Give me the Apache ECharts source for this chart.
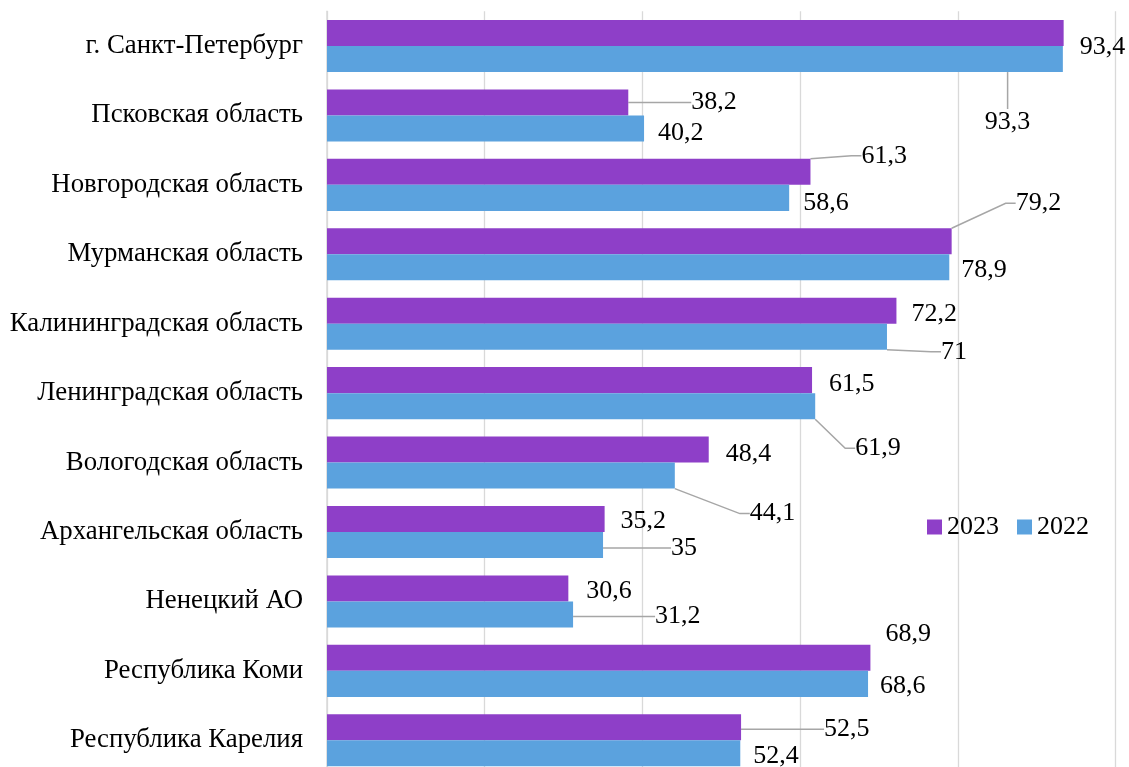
<!DOCTYPE html>
<html>
<head>
<meta charset="utf-8">
<script src="https://cdn.jsdelivr.net/npm/echarts@6/dist/echarts.min.js"></script>
<style>
html,body{margin:0;padding:0;background:#fff;overflow:hidden;width:1129px;height:767px;}
#chart{width:1129px;height:775px;}
</style>
</head>
<body>
<div id="chart"></div>
<script>
// ---- data ----
var categories = ['г. Санкт-Петербург','Псковская область','Новгородская область','Мурманская область','Калининградская область','Ленинградская область','Вологодская область','Архангельская область','Ненецкий АО','Республика Коми','Республика Карелия'];
var values2023 = [93.4, 38.2, 61.3, 79.2, 72.2, 61.5, 48.4, 35.2, 30.6, 68.9, 52.5];
var values2022 = [93.3, 40.2, 58.6, 78.9, 71, 61.9, 44.1, 35, 31.2, 68.6, 52.4];
var seriesNames = ['2023', '2022'];

// ---- label layout (offsets from default label position) ----
var shift2023 = [[11,12],[58,-2],[46,-18],[59,-40],[10,1],[12,2],[12,3],[11,0],[13,1],[10,-26],[78,0]];
var leader2023 = [false,true,true,true,false,false,false,false,false,false,true];
var shift2022 = [[-83,61],[9,3],[9,3],[7,1],[49,13],[35,40],[70,36],[63,1],[77,0],[7,0],[8,1]];
var leader2022 = [true,false,false,false,true,true,true,true,true,false,false];
var LABEL_DY = 2;

var FONT = '"Liberation Serif", "Times New Roman", serif';

function fmt(v){ return String(v).replace('.', ','); }
function buildData(vals, leaders){
  return vals.map(function(v, i){
    return { value: v, labelLine: { show: leaders[i] } };
  });
}
function layoutFn(shifts){
  return function(params){
    var s = shifts[params.dataIndex];
    return { dx: s[0], dy: s[1] + LABEL_DY };
  };
}

var chart = echarts.init(document.getElementById('chart'), null, {renderer:'canvas'});
var labelCommon = {
  show: true, position: 'right', distance: 5,
  color: '#000', fontFamily: FONT, fontSize: 26,
  formatter: function(p){ return fmt(p.value); }
};
var lineCommon = { show: true, length2: 10, smooth: false, lineStyle: { color: '#a6a6a6', width: 1.5 } };

chart.setOption({
  animation: false,
  backgroundColor: '#fff',
  textStyle: { fontFamily: FONT },
  legend: {
    data: seriesNames,
    left: 922, top: 509,
    itemWidth: 15, itemHeight: 15, itemGap: 18,
    icon: 'rect',
    textStyle: { fontFamily: FONT, fontSize: 26, color: '#000' }
  },
  grid: { left: 327, right: 13.3, top: 11.3, bottom: 0, containLabel: false },
  xAxis: {
    type: 'value', min: 0, max: 100, interval: 20,
    axisLabel: { show: false }, axisTick: { show: false }, axisLine: { show: false },
    splitLine: { show: true, lineStyle: { color: '#d9d9d9', width: 1.3 } }
  },
  yAxis: {
    type: 'category', data: categories, inverse: true,
    axisTick: { show: false },
    axisLine: { show: true, lineStyle: { color: '#d9d9d9', width: 1.5 } },
    axisLabel: { fontFamily: FONT, fontSize: 26.8, color: '#000', margin: 24 }
  },
  series: [
    {
      name: seriesNames[0], type: 'bar', data: buildData(values2023, leader2023),
      barGap: '0%', barCategoryGap: '25%',
      itemStyle: { color: '#8E3FC8' },
      label: labelCommon, labelLine: lineCommon,
      labelLayout: layoutFn(shift2023)
    },
    {
      name: seriesNames[1], type: 'bar', data: buildData(values2022, leader2022),
      barGap: '0%', barCategoryGap: '25%',
      itemStyle: { color: '#5BA2DE' },
      label: labelCommon, labelLine: lineCommon,
      labelLayout: layoutFn(shift2022)
    }
  ]
});
</script>
</body>
</html>
